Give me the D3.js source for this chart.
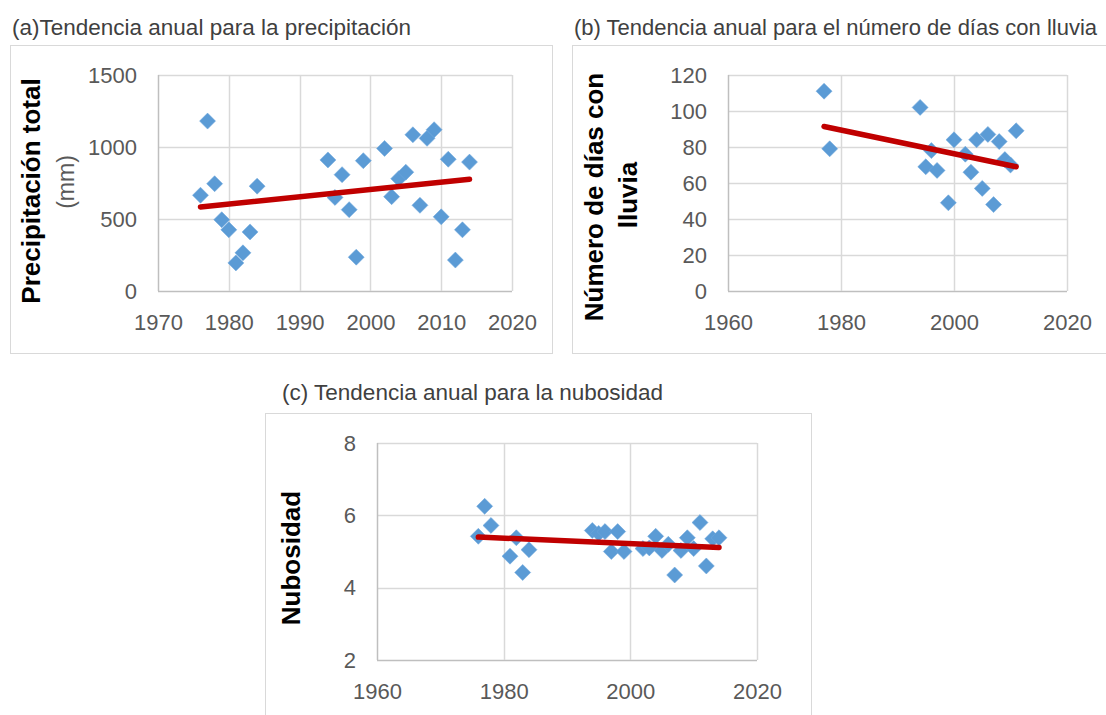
<!DOCTYPE html>
<html>
<head>
<meta charset="utf-8">
<script src="https://cdn.jsdelivr.net/npm/d3@7/dist/d3.min.js"></script>
<style>
  body { margin: 0; background: #fff; }
  text { font-family: "Liberation Sans", Arial, sans-serif; }
</style>
</head>
<body>
<div id="chart"></div>
<script>
// values
var yearsA = [1976, 1977, 1978, 1979, 1980, 1981, 1982, 1983, 1984,
  1994, 1995, 1996, 1997, 1998, 1999,
  2002, 2003, 2004, 2005, 2006, 2007, 2008, 2009, 2010, 2011, 2012, 2013, 2014];
var precip = [665, 1180, 745, 495, 425, 195, 265, 410, 728,
  910, 650, 808, 565, 235, 905,
  990, 655, 780, 825, 1085, 595, 1060, 1120, 515, 915, 215, 425, 895];

var yearsB = [1977, 1978, 1994, 1995, 1996, 1997, 1999, 2000, 2002,
  2003, 2004, 2005, 2006, 2007, 2008, 2009, 2010, 2011];
var rainDays = [111, 79, 102, 69, 78, 67, 49, 84, 76,
  66, 84, 57, 87, 48, 83, 73, 70, 89];

var yearsC = [1976, 1977, 1978, 1981, 1982, 1983, 1984,
  1994, 1995, 1996, 1997, 1998, 1999,
  2002, 2003, 2004, 2005, 2006, 2007, 2008, 2009, 2010, 2011, 2012, 2013, 2014];
var cloud = [5.42, 6.25, 5.72, 4.87, 5.38, 4.42, 5.05,
  5.58, 5.5, 5.55, 5.0, 5.55, 5.0,
  5.08, 5.1, 5.42, 5.03, 5.2, 4.35, 5.03, 5.38, 5.08, 5.8, 4.6, 5.35, 5.38];

var xTicksA = [1970, 1980, 1990, 2000, 2010, 2020];
var yTicksA = [0, 500, 1000, 1500];
var xTicksB = [1960, 1980, 2000, 2020];
var yTicksB = [0, 20, 40, 60, 80, 100, 120];
var xTicksC = [1960, 1980, 2000, 2020];
var yTicksC = [2, 4, 6, 8];

var titles = ["(a)Tendencia anual para la precipitación",
  "(b) Tendencia anual para el número de días con lluvia",
  "(c) Tendencia anual para la nubosidad"];

var svg = d3.select("#chart")
  .append("svg")
  .attr("width", 1106)
  .attr("height", 715);

// least squares line through the points
function linFit(xs, ys) {
  var mx = d3.mean(xs), my = d3.mean(ys);
  var sxy = d3.sum(xs, function (d, i) { return (d - mx) * (ys[i] - my); });
  var sxx = d3.sum(xs, function (d) { return (d - mx) * (d - mx); });
  var b = sxy / sxx;
  return function (v) { return my + b * (v - mx); };
}

function drawPanel(p) {
  var g = svg.append("g");

  // chart area border
  g.append("rect")
    .attr("x", p.frame[0] + 0.5)
    .attr("y", p.frame[1] + 0.5)
    .attr("width", p.frame[2] - p.frame[0])
    .attr("height", p.frame[3] - p.frame[1])
    .style("fill", "#fff")
    .style("stroke", "#d9d9d9")
    .style("stroke-width", 1);

  g.append("text")
    .attr("x", p.titleX)
    .attr("y", p.titleY)
    .text(p.title)
    .style("font-size", p.titleSize + "px")
    .style("fill", "#404040");

  var x = d3.scaleLinear().domain(d3.extent(p.xTicks)).range([p.left, p.right]);
  var y = d3.scaleLinear().domain(d3.extent(p.yTicks)).range([p.bottom, p.top]);

  // gridlines
  g.append("g").selectAll("line")
    .data(p.yTicks)
    .enter()
    .append("line")
    .attr("x1", p.left).attr("x2", p.right)
    .attr("y1", function (d) { return Math.round(y(d)) + 0.5; })
    .attr("y2", function (d) { return Math.round(y(d)) + 0.5; })
    .style("stroke", function (d, i) { return i == 0 ? "#bfbfbf" : "#d9d9d9"; })
    .style("stroke-width", 1.5);
  g.append("g").selectAll("line")
    .data(p.xTicks)
    .enter()
    .append("line")
    .attr("y1", p.top).attr("y2", p.bottom)
    .attr("x1", function (d) { return Math.round(x(d)) + 0.5; })
    .attr("x2", function (d) { return Math.round(x(d)) + 0.5; })
    .style("stroke", function (d, i) { return i == 0 ? "#bfbfbf" : "#d9d9d9"; })
    .style("stroke-width", 1.5);

  // tick labels
  var ya = g.append("g")
    .attr("transform", "translate(" + p.left + ",0)")
    .call(d3.axisLeft(y).tickValues(p.yTicks).tickSize(0).tickPadding(21).tickFormat(d3.format("d")));
  var xa = g.append("g")
    .attr("transform", "translate(0," + p.bottom + ")")
    .call(d3.axisBottom(x).tickValues(p.xTicks).tickSize(0).tickPadding(23).tickFormat(d3.format("d")));
  [ya, xa].forEach(function (a) {
    a.select(".domain").remove();
    a.selectAll("text")
      .style("font-family", "'Liberation Sans', Arial, sans-serif")
      .style("font-size", "22px")
      .style("fill", "#595959");
  });

  // axis title (one or two lines)
  p.yTitle.forEach(function (t) {
    g.append("text")
      .attr("transform", "translate(" + t.x + "," + t.y + ") rotate(-90)")
      .attr("text-anchor", "middle")
      .attr("dominant-baseline", "central")
      .text(t.text)
      .style("font-size", t.bold ? "26px" : "23px")
      .style("font-weight", t.bold ? "bold" : "normal")
      .style("fill", t.bold ? "#000" : "#595959");
  });

  // points
  var pts = p.xs.map(function (d, i) { return [d, p.ys[i]]; });
  g.append("g").selectAll("path")
    .data(pts)
    .enter()
    .append("path")
    .attr("d", d3.symbol().type(d3.symbolSquare).size(128))
    .attr("transform", function (d) {
      return "translate(" + x(d[0]) + "," + y(d[1]) + ") rotate(45)";
    })
    .style("fill", "#5b9bd5")
    .style("stroke", "#6fa8dc")
    .style("stroke-width", 0.5);

  // linear trend
  var fit = linFit(p.xs, p.ys);
  var ends = d3.extent(p.xs);
  g.append("path")
    .datum(ends)
    .attr("d", d3.line()
      .x(function (d) { return x(d); })
      .y(function (d) { return y(fit(d)); }))
    .style("fill", "none")
    .style("stroke", "#c00000")
    .style("stroke-width", 5.5)
    .style("stroke-linecap", "round");
}

drawPanel({
  frame: [10, 45, 552, 353],
  title: titles[0], titleX: 12, titleY: 35, titleSize: 22.5,
  left: 158, right: 512, top: 75, bottom: 291,
  xTicks: xTicksA, yTicks: yTicksA, xs: yearsA, ys: precip,
  yTitle: [
    { text: "Precipitación total", x: 31, y: 191, bold: true },
    { text: "(mm)", x: 66, y: 182, bold: false }
  ]
});

drawPanel({
  frame: [572, 45, 1120, 353],
  title: titles[1], titleX: 574, titleY: 35, titleSize: 22,
  left: 728, right: 1067, top: 75, bottom: 291,
  xTicks: xTicksB, yTicks: yTicksB, xs: yearsB, ys: rainDays,
  yTitle: [
    { text: "Número de días con", x: 594, y: 197, bold: true },
    { text: "lluvia", x: 628, y: 195, bold: true }
  ]
});

drawPanel({
  frame: [265, 413, 811, 730],
  title: titles[2], titleX: 282, titleY: 400, titleSize: 22.5,
  left: 377, right: 757, top: 443, bottom: 660,
  xTicks: xTicksC, yTicks: yTicksC, xs: yearsC, ys: cloud,
  yTitle: [
    { text: "Nubosidad", x: 291, y: 558, bold: true }
  ]
});
</script>
</body>
</html>
